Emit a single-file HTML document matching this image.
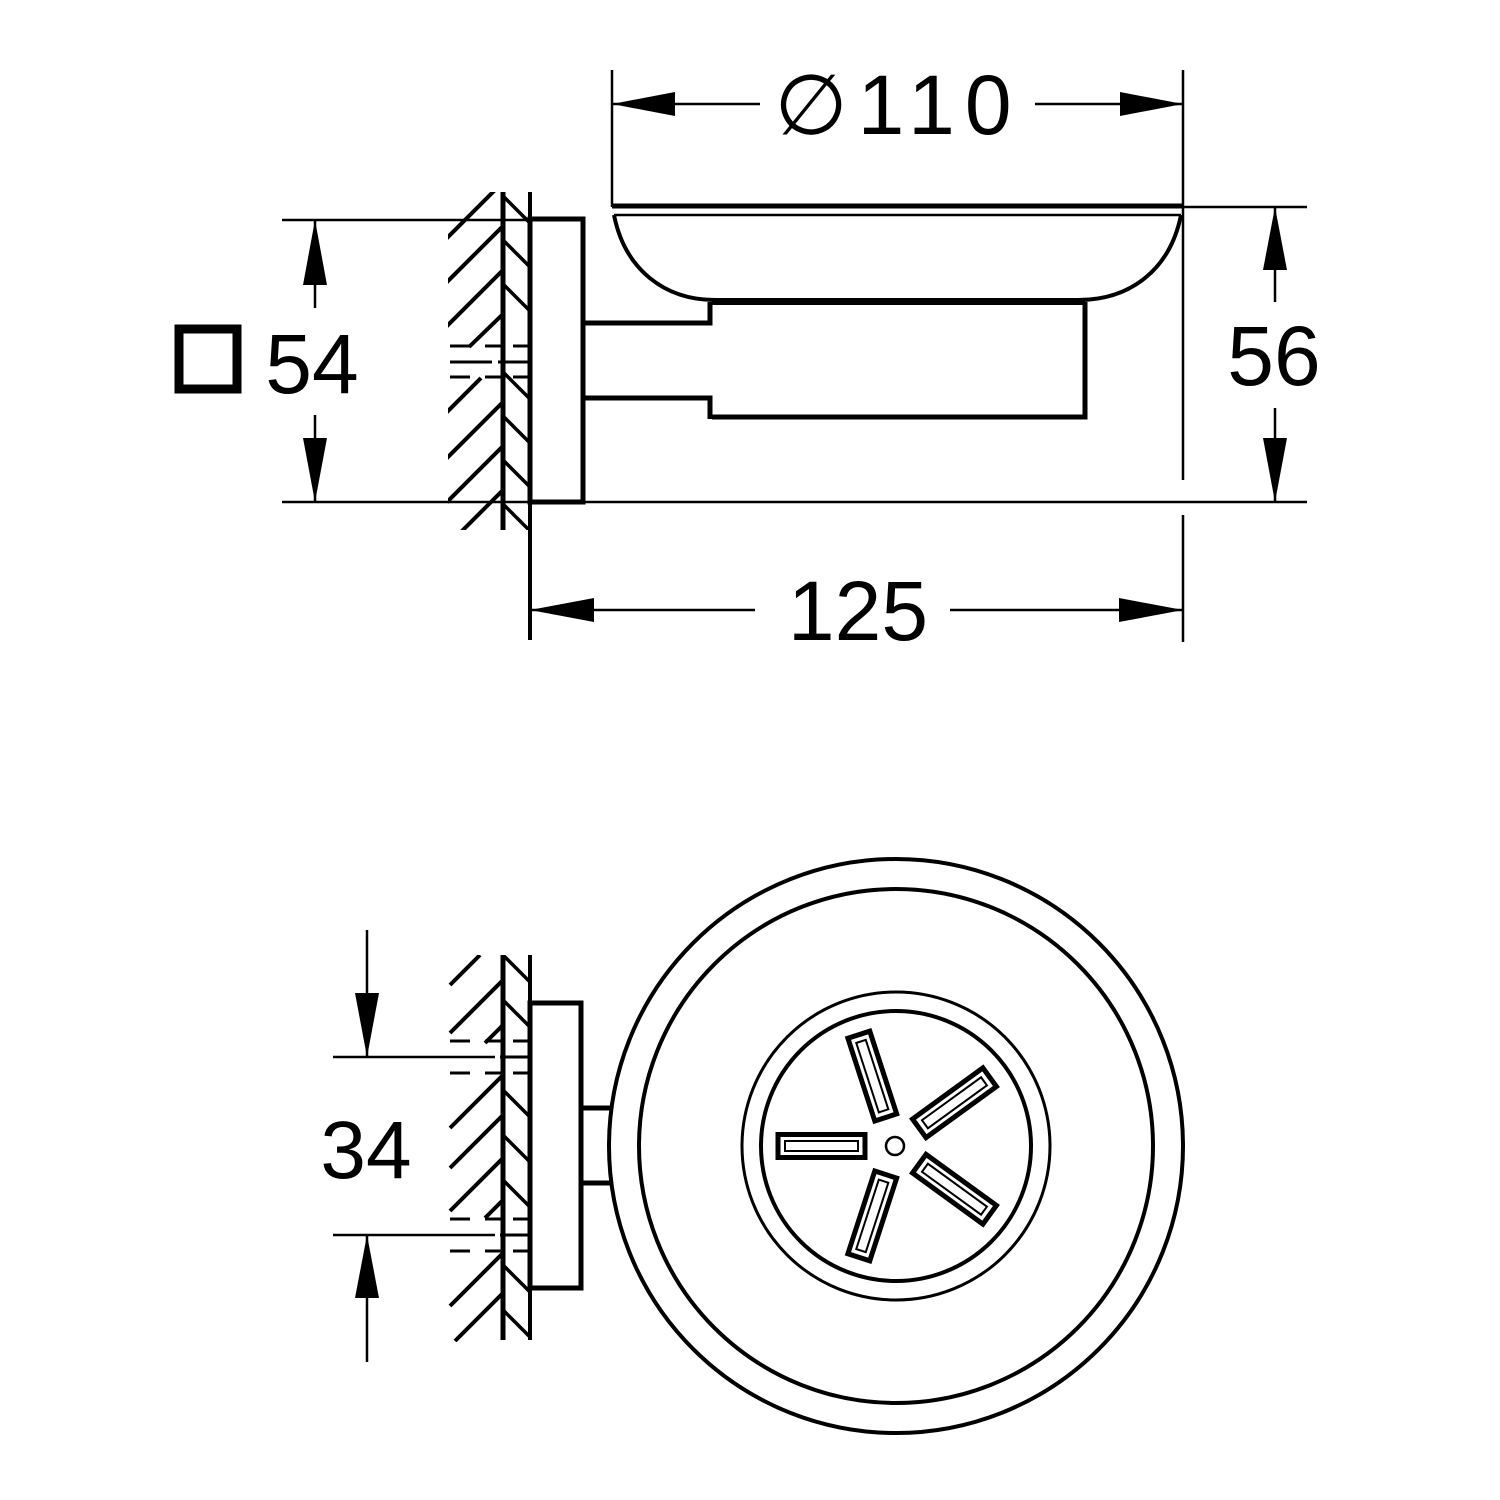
<!DOCTYPE html>
<html><head><meta charset="utf-8"><style>
html,body{margin:0;padding:0;background:#fff;}
svg{display:block;}
text{font-family:"Liberation Sans",sans-serif;fill:#000;}
</style></head><body>
<svg width="1500" height="1500" viewBox="0 0 1500 1500" xmlns="http://www.w3.org/2000/svg">
<defs>
<clipPath id="h1"><rect x="448" y="192" width="56" height="338"/></clipPath>
<clipPath id="c1"><rect x="503" y="192" width="27" height="338"/></clipPath>
<clipPath id="h2"><rect x="448" y="955" width="56" height="387"/></clipPath>
<clipPath id="c2"><rect x="503" y="955" width="27" height="387"/></clipPath>
<g id="slot">
<rect x="30" y="-11.5" width="87" height="23" fill="none" stroke="#000" stroke-width="5"/>
<rect x="37" y="-5" width="73" height="10" fill="none" stroke="#000" stroke-width="2"/>
</g>
</defs>
<g stroke="#000" fill="none" stroke-linecap="butt">

<line x1="612" y1="70" x2="612" y2="207" stroke-width="2.5"/>
<line x1="1183" y1="70" x2="1183" y2="480" stroke-width="2.5"/>
<line x1="1183" y1="515" x2="1183" y2="642" stroke-width="2.5"/>
<line x1="612" y1="104" x2="760" y2="104" stroke-width="2.5"/>
<line x1="1035" y1="104" x2="1183" y2="104" stroke-width="2.5"/>
<polygon points="612,104 675,92 675,116" fill="#000" stroke="none"/>
<polygon points="1183,104 1120,92 1120,116" fill="#000" stroke="none"/>

<line x1="612" y1="206" x2="1183" y2="206" stroke-width="5"/>
<line x1="614" y1="215" x2="1181" y2="215" stroke-width="2.5"/>
<path d="M614,215 C625,270 665,300 715,300 L1078,300 C1130,300 1170,270 1181,215" stroke-width="4"/>
<line x1="712" y1="302" x2="1085" y2="302" stroke-width="6"/>
<polyline points="1085,302 1085,417 712,417" stroke-width="5"/>
<polyline points="710,302 710,323 585,323" stroke-width="5"/>
<polyline points="585,398 710,398 710,419" stroke-width="5"/>
<rect x="530" y="219" width="53" height="283" stroke-width="5"/>
<line x1="503" y1="192" x2="503" y2="530" stroke-width="5"/>
<line x1="530" y1="192" x2="530" y2="640" stroke-width="4"/>
<g clip-path="url(#h1)" stroke-width="4">
<line x1="503" y1="182" x2="440" y2="245"/>
<line x1="503" y1="226" x2="440" y2="289"/>
<line x1="503" y1="270" x2="440" y2="333"/>
<line x1="503" y1="314" x2="469" y2="347"/>
<line x1="503" y1="402" x2="440" y2="465"/>
<line x1="503" y1="446" x2="440" y2="509"/>
<line x1="503" y1="490" x2="440" y2="553"/>
<line x1="503" y1="534" x2="440" y2="597"/>
<line x1="481" y1="378" x2="440" y2="419"/>
</g>
<g clip-path="url(#c1)" stroke-width="3.5">
<line x1="503" y1="196" x2="530" y2="223"/>
<line x1="503" y1="240" x2="530" y2="267"/>
<line x1="503" y1="284" x2="530" y2="311"/>
<line x1="503" y1="372" x2="530" y2="399"/>
<line x1="503" y1="416" x2="530" y2="443"/>
<line x1="503" y1="460" x2="530" y2="487"/>
<line x1="503" y1="504" x2="530" y2="531"/>
</g>
<g stroke-width="3">
<line x1="450" y1="346" x2="470" y2="346"/><line x1="485" y1="346" x2="505" y2="346"/><line x1="513" y1="346" x2="528" y2="346"/>
<line x1="450" y1="362" x2="492" y2="362"/><line x1="498" y1="362" x2="528" y2="362"/>
<line x1="450" y1="377" x2="470" y2="377"/><line x1="485" y1="377" x2="505" y2="377"/><line x1="513" y1="377" x2="528" y2="377"/>
</g>

<line x1="282" y1="220" x2="530" y2="220" stroke-width="2.5"/>
<line x1="282" y1="502" x2="1307" y2="502" stroke-width="2.5"/>
<line x1="315" y1="220" x2="315" y2="308" stroke-width="2.5"/>
<line x1="315" y1="415" x2="315" y2="502" stroke-width="2.5"/>
<polygon points="315,220 303,285 327,285" fill="#000" stroke="none"/>
<polygon points="315,502 303,438 327,438" fill="#000" stroke="none"/>
<rect x="179" y="329" width="58" height="60" stroke-width="9"/>

<line x1="1183" y1="207" x2="1307" y2="207" stroke-width="2.5"/>
<line x1="1275" y1="207" x2="1275" y2="302" stroke-width="2.5"/>
<line x1="1275" y1="408" x2="1275" y2="502" stroke-width="2.5"/>
<polygon points="1275,207 1263,270 1287,270" fill="#000" stroke="none"/>
<polygon points="1275,502 1263,438 1287,438" fill="#000" stroke="none"/>

<line x1="530" y1="610" x2="755" y2="610" stroke-width="2.5"/>
<line x1="950" y1="610" x2="1183" y2="610" stroke-width="2.5"/>
<polygon points="530,610 594,598 594,622" fill="#000" stroke="none"/>
<polygon points="1183,610 1119,598 1119,622" fill="#000" stroke="none"/>

<circle cx="896" cy="1146" r="287" stroke-width="4"/>
<circle cx="896" cy="1146" r="257" stroke-width="4"/>
<circle cx="896" cy="1146" r="154" stroke-width="3"/>
<circle cx="896" cy="1146" r="135" stroke-width="4"/>
<circle cx="895" cy="1146" r="9" stroke-width="2.5"/>
<g transform="translate(895,1146)">
<use href="#slot" transform="rotate(180)"/>
<use href="#slot" transform="rotate(252)"/>
<use href="#slot" transform="rotate(324)"/>
<use href="#slot" transform="rotate(36)"/>
<use href="#slot" transform="rotate(108)"/>
</g>
<line x1="582" y1="1108" x2="612" y2="1108" stroke-width="5"/>
<line x1="582" y1="1183" x2="612" y2="1183" stroke-width="5"/>
<rect x="530" y="1003" width="51" height="285" stroke-width="5"/>
<line x1="503" y1="955" x2="503" y2="1340" stroke-width="5"/>
<line x1="530" y1="955" x2="530" y2="1340" stroke-width="4"/>
<g clip-path="url(#h2)" stroke-width="4">
<line x1="480" y1="955" x2="450" y2="985"/>
<line x1="503" y1="980" x2="450" y2="1033"/>
<line x1="503" y1="1025" x2="485" y2="1043"/>
<line x1="503" y1="1075" x2="450" y2="1128"/>
<line x1="503" y1="1115" x2="450" y2="1168"/>
<line x1="503" y1="1158" x2="450" y2="1211"/>
<line x1="503" y1="1200" x2="485" y2="1218"/>
<line x1="503" y1="1253" x2="450" y2="1306"/>
<line x1="503" y1="1293" x2="455" y2="1341"/>
</g>
<g clip-path="url(#c2)" stroke-width="3.5">
<line x1="503" y1="955" x2="530" y2="982"/>
<line x1="503" y1="1000" x2="530" y2="1027"/>
<line x1="503" y1="1090" x2="530" y2="1117"/>
<line x1="503" y1="1135" x2="530" y2="1162"/>
<line x1="503" y1="1180" x2="530" y2="1207"/>
<line x1="503" y1="1265" x2="530" y2="1292"/>
<line x1="503" y1="1310" x2="530" y2="1337"/>
</g>
<g stroke-width="3">
<line x1="450" y1="1041" x2="470" y2="1041"/><line x1="485" y1="1041" x2="505" y2="1041"/><line x1="513" y1="1041" x2="528" y2="1041"/>
<line x1="450" y1="1073" x2="470" y2="1073"/><line x1="485" y1="1073" x2="505" y2="1073"/><line x1="513" y1="1073" x2="528" y2="1073"/>
<line x1="450" y1="1219" x2="470" y2="1219"/><line x1="485" y1="1219" x2="505" y2="1219"/><line x1="513" y1="1219" x2="528" y2="1219"/>
<line x1="450" y1="1251" x2="470" y2="1251"/><line x1="485" y1="1251" x2="505" y2="1251"/><line x1="513" y1="1251" x2="528" y2="1251"/>
<line x1="500" y1="1057" x2="528" y2="1057"/>
<line x1="500" y1="1235" x2="528" y2="1235"/>
</g>
<line x1="333" y1="1057" x2="495" y2="1057" stroke-width="2.5"/>
<line x1="333" y1="1235" x2="495" y2="1235" stroke-width="2.5"/>
<line x1="367" y1="930" x2="367" y2="1057" stroke-width="2.5"/>
<line x1="367" y1="1235" x2="367" y2="1362" stroke-width="2.5"/>
<polygon points="367,1057 355,993 379,993" fill="#000" stroke="none"/>
<polygon points="367,1235 355,1298 379,1298" fill="#000" stroke="none"/>
</g>

<text x="898" y="134" font-size="84" text-anchor="middle" letter-spacing="10">∅110</text>
<text x="312" y="393" font-size="84" text-anchor="middle">54</text>
<text x="1274" y="385" font-size="84" text-anchor="middle">56</text>
<text x="858" y="640" font-size="84" text-anchor="middle">125</text>
<text x="366" y="1178" font-size="82" text-anchor="middle">34</text>
</svg>
</body></html>
